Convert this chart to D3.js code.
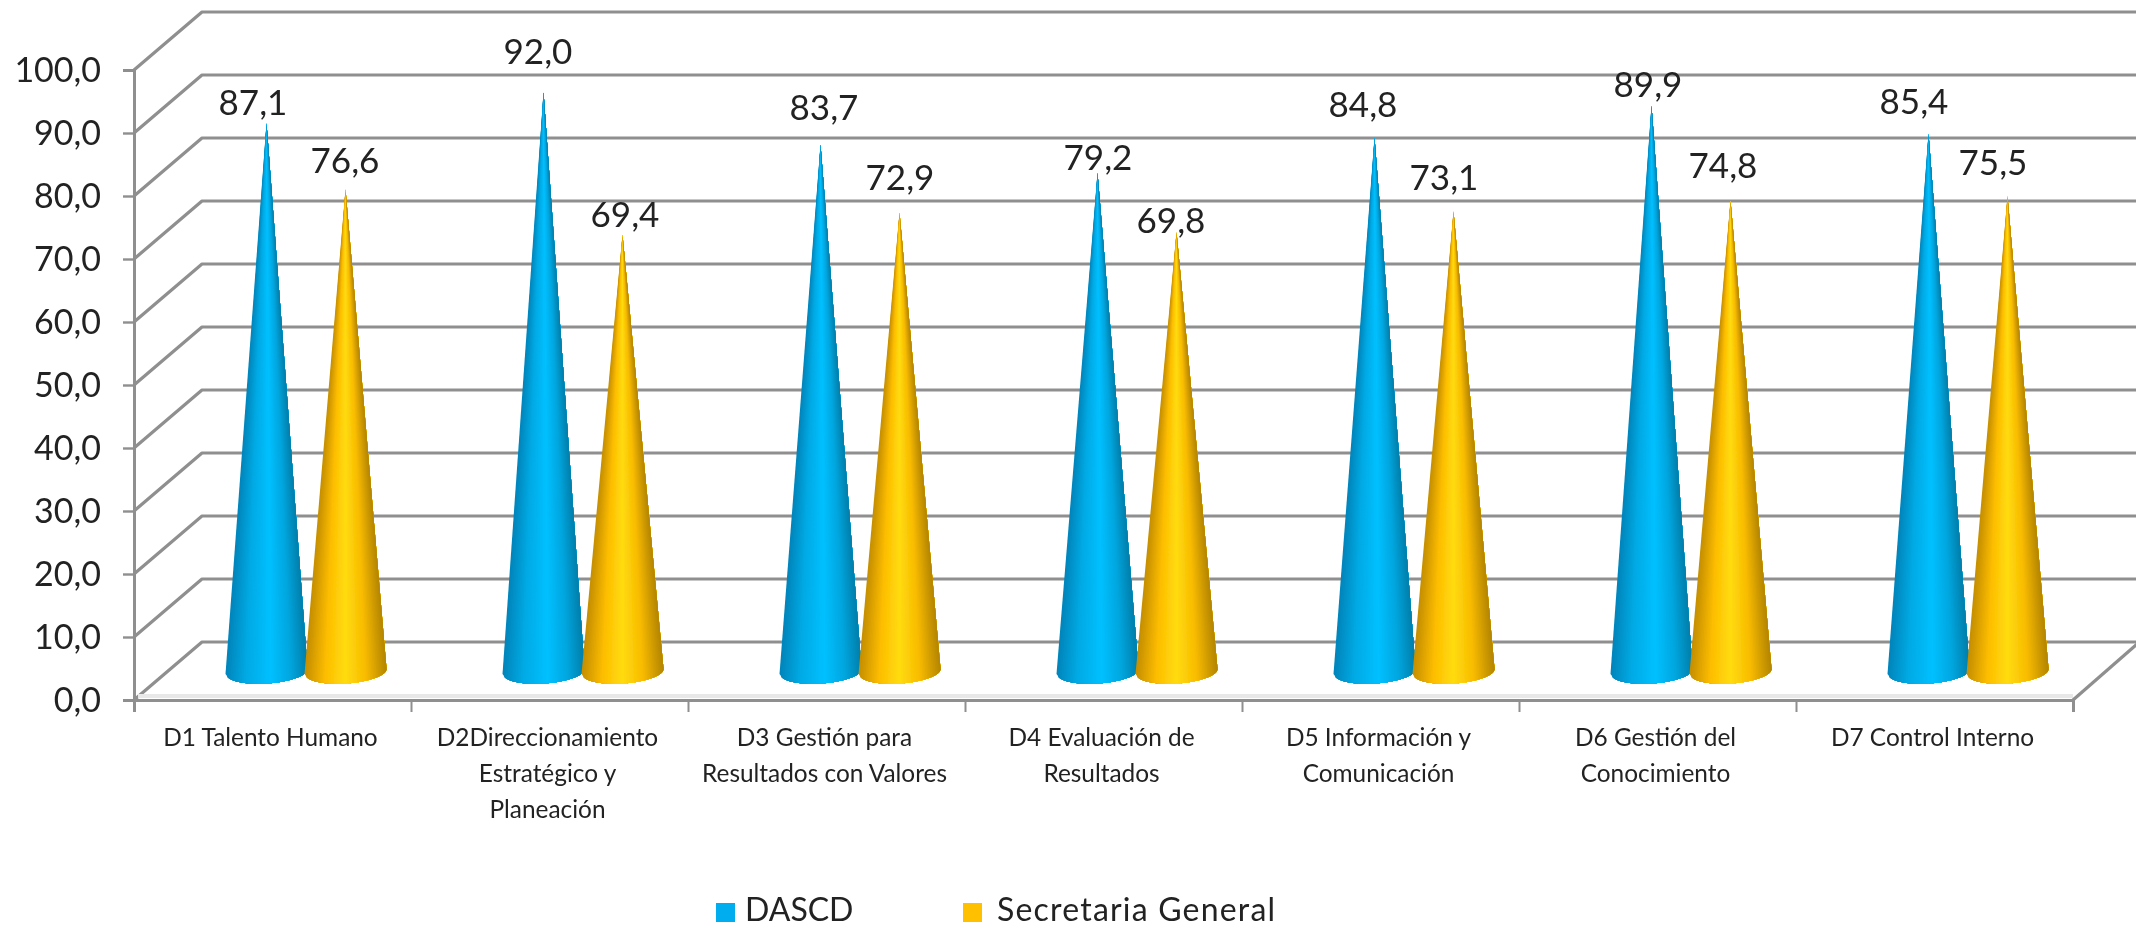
<!DOCTYPE html>
<html><head><meta charset="utf-8">
<script src="https://cdnjs.cloudflare.com/ajax/libs/d3/7.8.5/d3.min.js"></script>
<style>html,body{margin:0;background:#fff;overflow:hidden}svg{display:block}text{font-family:Lato,sans-serif;fill:#222}</style>
</head><body><svg id="c" width="2136" height="928"></svg>
<script>
const categories=[["D1 Talento Humano"],["D2Direccionamiento","Estratégico y","Planeación"],["D3 Gestión para","Resultados con Valores"],["D4 Evaluación de","Resultados"],["D5 Información y","Comunicación"],["D6 Gestión del","Conocimiento"],["D7 Control Interno"]];
const dascd=[87.1,92.0,83.7,79.2,84.8,89.9,85.4];
const secretaria=[76.6,69.4,72.9,69.8,73.1,74.8,75.5];
const seriesNames=["DASCD","Secretaria General"];
const yTicks=[0,10,20,30,40,50,60,70,80,90,100];
// hand placement of the value labels relative to each cone tip
const labelDx=[[-14,-6,3,0,-12,-4,-15],[-1,2,0,-6,-10,-8,-15]];
const labelLift=[[21,41,37,16,33,21,33],[29,20,35,12,34,35,34]];

const W=2136,H=928,x0=134,x1=2073,yB=700,yT=70,dx=68,dy=-58;
const svg=d3.select("#c");
const defs=svg.append("defs");
defs.append("filter").attr("id","soft").attr("x","-2%").attr("y","-2%").attr("width","104%").attr("height","104%")
  .append("feGaussianBlur").attr("stdDeviation",0.7);
const root=svg.append("g").attr("filter","url(#soft)");
const x=d3.scaleBand().domain(d3.range(categories.length)).range([x0,x1]);
const y=d3.scaleLinear().domain([0,100]).range([yB,yT]);
const grid="#8f8f8f";

// walls and floor
const g=root.append("g").attr("fill","none").attr("stroke",grid).attr("stroke-width",3.2);
g.selectAll("path.grid").data(yTicks).join("path").attr("class","grid")
 .attr("d",v=>d3.line()([[x0,y(v)],[x0+dx,y(v)+dy],[W+10,y(v)+dy]]))
 .attr("stroke-linejoin","round");
g.append("path").attr("d",d3.line()([[x1,yB],[W+10,yB+dy*1.1]]));
root.append("line").attr("x1",x0+4).attr("x2",x1).attr("y1",yB-4).attr("y2",yB-4).attr("stroke","#e8e8e8").attr("stroke-width",4);

// axes
const axY=root.append("g").attr("transform",`translate(${x0},0)`)
 .call(d3.axisLeft(y).tickValues(yTicks).tickSize(11).tickPadding(22).tickFormat(v=>d3.format(".1f")(v).replace(".",",")));
const tickPos=d3.range(categories.length).map(i=>x(i)).concat([x1]);
const axX=root.append("g").attr("transform",`translate(0,${yB})`)
 .call(d3.axisBottom(d3.scaleLinear().domain([x0,x1]).range([x0,x1])).tickValues(tickPos).tickSize(12).tickFormat(""));
[axY,axX].forEach(a=>{a.selectAll("path,line").attr("stroke",grid).attr("stroke-width",3);});
axX.selectAll("line").attr("stroke-width",2);
axY.selectAll("line").attr("stroke-width",2.4);
axY.selectAll("text").attr("font-size",34).attr("fill","#222").attr("dy","0.33em").style("font-family","Lato");

// cones
const rx=41,ry=12,groundY=y(0)+dy/2+0.5;
const shades=[
  d3.scaleLinear().domain([0,.25,.55,.8,1]).range(["#0085ba","#00aae4","#00c0ff","#00a6de","#007fab"]),
  d3.scaleLinear().domain([0,.25,.5,.75,1]).range(["#c48e00","#fdbd00","#ffdc10","#f8bb00","#b58600"])
];
const N=50;
// each slice runs from its left edge to the far side of the cone, painted in order, so no seams show
function wedge(cx,tip,t0){
  const pts=[[cx,tip]];
  d3.range(0,25).forEach(k=>{
    const t=t0+(1-t0)*k/24, c=2*t-1, s=Math.sqrt(Math.max(0,1-c*c));
    pts.push([cx+rx*c,groundY+ry*s-c*2.5]);
  });
  return d3.line()(pts)+"Z";
}
const centerX=i=>x(i)+x.bandwidth()/2+dx/2;
const seriesOffset=d3.scalePoint().domain([0,1]).range([-39.5,39.5]);
[dascd,secretaria].forEach((vals,s)=>{
  const sg=root.append("g");
  vals.forEach((v,i)=>{
    const cx=centerX(i)+seriesOffset(s)-0.5, tip=y(v)+dy/2+1;
    sg.append("g").selectAll("path").data(d3.range(N)).join("path")
      .attr("d",k=>wedge(cx,tip,k/N))
      .attr("fill",k=>shades[s]((k+.5)/N));
  });
});

// value labels
const fmt=v=>d3.format(".1f")(v).replace(".",",");
[dascd,secretaria].forEach((vals,s)=>{
  root.append("g").selectAll("text").data(vals).join("text")
   .attr("x",(v,i)=>centerX(i)+seriesOffset(s)+labelDx[s][i])
   .attr("y",(v,i)=>y(v)+dy/2-labelLift[s][i]+1)
   .attr("dy","0.36em").attr("text-anchor","middle").attr("font-size",35)
   .text(fmt);
});

// category labels
const cat=root.append("g").selectAll("text").data(categories).join("text")
 .attr("text-anchor","middle").attr("font-size",24.4);
cat.selectAll("tspan").data((d,i)=>d.map(t=>({t,i}))).join("tspan")
 .attr("x",d=>x(d.i)+x.bandwidth()/2-2).attr("y",(d,j)=>746+j*36).text(d=>d.t);

// legend
const legX=d3.scaleOrdinal().domain(seriesNames).range([716,963]);
const legColor=d3.scaleOrdinal().domain(seriesNames).range(["#00aeef","#ffc000"]);
const leg=root.append("g").selectAll("g").data(seriesNames).join("g").attr("transform",d=>`translate(${legX(d)},903)`);
leg.append("rect").attr("width",19).attr("height",19).attr("fill",d=>legColor(d));
leg.append("text").attr("x",(d,i)=>i?34:29).attr("y",18).attr("font-size",32).attr("letter-spacing",(d,i)=>i?1.2:0).text(d=>d);
</script></body></html>
